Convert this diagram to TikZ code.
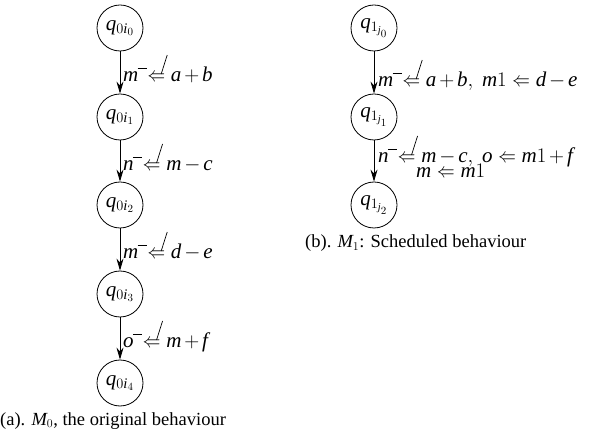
\documentclass[tikz,border=0pt]{standalone}
\usepackage{fontspec}
\setmainfont{Liberation Serif}
\usetikzlibrary{arrows.meta}
\medmuskip=2.5mu\relax
\newcommand\vi[1]{\mathit{#1}}
\newcommand\narr{\scalebox{0.85}[1]{$\Leftarrow$}}
\newcommand\La{\mathrel{\narr}}
\newcommand\Lw{\mathrel{\mkern3mu\tikz[overlay,baseline=0pt]{\draw[line width=0.7pt] (-10pt,14pt) -- (-0.5pt,14pt);}\narr\tikz[overlay,baseline=0pt]{\draw[line width=0.7pt] (-4pt,8pt) -- (2pt,27pt);}}}
\begin{document}
\begin{tikzpicture}[x=1pt,y=-1pt,
  font=\fontsize{18.5}{20}\selectfont,
  mth/.style={font=\fontsize{21}{22}\selectfont},
  st/.style={circle,draw,line width=0.8pt,minimum size=46pt,inner sep=0pt,mth},
  lab/.style={anchor=base west,inner sep=0pt,mth},
  tr/.style={-{Stealth[length=12pt,width=7pt]},line width=0.8pt}]
\useasboundingbox (0,0) rectangle (589,435);
% left column
\node[st] (a0) at (120,28) {$\vi q_{0\vi i_0}$};
\node[st] (a1) at (120,117) {$\vi q_{0\vi i_1}$};
\node[st] (a2) at (120,205) {$\vi q_{0\vi i_2}$};
\node[st] (a3) at (120,294) {$\vi q_{0\vi i_3}$};
\node[st] (a4) at (120,383) {$\vi q_{0\vi i_4}$};
\draw[tr] (a0) -- (a1);
\draw[tr] (a1) -- (a2);
\draw[tr] (a2) -- (a3);
\draw[tr] (a3) -- (a4);
\node[lab] (l1) at (123,82) {$\vi m\Lw \vi a+\vi b$};
\node[lab] (l2) at (123,171) {$\vi n\Lw \vi m-\vi c$};
\node[lab] (l3) at (123,259) {$\vi m\Lw \vi d-\vi e$};
\node[lab] (l4) at (123,348) {$\vi o\Lw \vi m+\vi f$};
\node[anchor=base west,inner sep=0pt] (ca) at (0,425) {(a). $\vi M_0$, the original behaviour};
% right column
\node[st] (b0) at (374,28) {$\vi q_{1_{\vi j_0}}$};
\node[st] (b1) at (374,117) {$\vi q_{1_{\vi j_1}}$};
\node[st] (b2) at (374,205) {$\vi q_{1_{\vi j_2}}$};
\draw[tr] (b0) -- (b1);
\draw[tr] (b1) -- (b2);
\node[lab] (r1) at (378,87) {$\vi m\Lw \vi a+\vi b,\ \vi m1\La \vi d-\vi e$};
\node[lab] (r2) at (378,163) {$\vi n\Lw \vi m-\vi c,\ \vi o\La \vi m1+\vi f$};
\node[lab] (r3) at (416,178) {$\vi m\La \vi m1$};
\node[anchor=base west,inner sep=0pt] (cb) at (305,248) {(b). $\vi M_1$: Scheduled behaviour};
\end{tikzpicture}
\end{document}
